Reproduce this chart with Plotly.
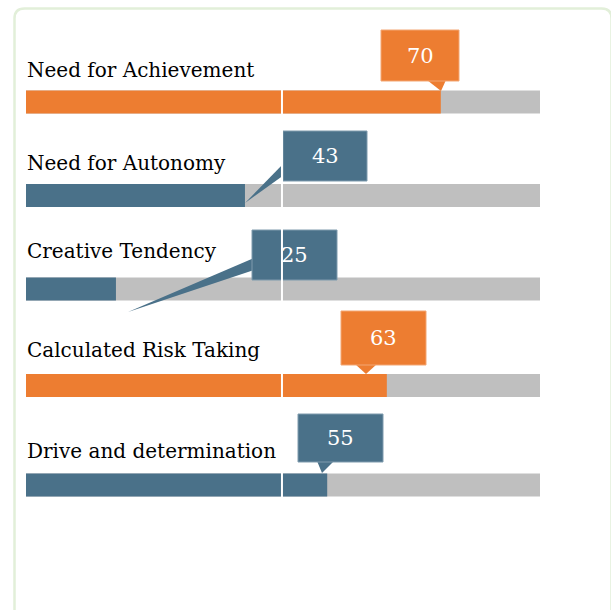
import plotly.graph_objects as go

# ---------------- data ----------------
categories = ["Need for Achievement", "Need for Autonomy", "Creative Tendency",
              "Calculated Risk Taking", "Drive and determination"]
bar_values = [80.7, 42.6, 17.5, 70.2, 58.6]      # bar lengths (0-100 scale)
label_values = [70, 43, 25, 63, 55]              # numbers shown in the callouts
scale_max = 100
midpoint = 50

# ---------------- layout / style ----------------
W, H = 611, 610
PX0, PX100 = 26, 540                 # pixel position of value 0 and value 100
PPU = (PX100 - PX0) / scale_max
def v(px):                           # pixel x -> axis value
    return (px - PX0) / PPU

row_y = [102, 195.5, 289, 385.5, 485]
label_y = [69.5, 162.5, 250.5, 349.5, 450.5]
bar_h = 23

ORANGE = "#ED7D31"
BLUE = "#4A7189"
GRAY = "#BFBFBF"
row_colors = [ORANGE, BLUE, BLUE, ORANGE, BLUE]
border_colors = ["#F3A774", "#7E9BAD", "#7E9BAD", "#F3A774", "#7E9BAD"]

# callout boxes (pixel x0, x1, y0, y1) and pointer polygons (pixel)
boxes = [(381, 459, 30, 81), (283, 367, 131, 181), (252, 337, 230, 280),
         (341, 426, 311, 365), (298, 383, 414, 462)]
pointers = [[(427, 80), (446, 80), (441, 91)],
            [(284, 163), (284, 175), (245, 203)],
            [(254, 258), (254, 270), (128, 312)],
            [(355, 364), (377, 364), (366, 374)],
            [(317, 461), (334, 461), (322, 473)]]

LABEL_FONT = dict(family="DejaVu Serif", size=20, color="#000000")
VALUE_FONT = dict(family="DejaVu Serif", size=21, color="#FFFFFF")

fig = go.Figure()
fig.add_trace(go.Bar(orientation="h", y=row_y, x=[scale_max] * len(categories),
                     width=bar_h, marker=dict(color=GRAY, line=dict(width=0)),
                     hoverinfo="skip"))
fig.add_trace(go.Bar(orientation="h", y=row_y, x=bar_values, width=bar_h,
                     marker=dict(color=row_colors, line=dict(width=0)),
                     hovertext=categories, hoverinfo="text"))

shapes = []
for i in range(len(categories)):
    pts = pointers[i]
    path = "M {},{} L {},{} L {},{} Z".format(v(pts[0][0]), pts[0][1], v(pts[1][0]), pts[1][1],
                                              v(pts[2][0]), pts[2][1])
    shapes.append(dict(type="path", xref="x", yref="y", path=path,
                       fillcolor=row_colors[i], line=dict(width=0), layer="above"))
for i in range(len(categories)):
    x0, x1, y0, y1 = boxes[i]
    shapes.append(dict(type="rect", xref="x", yref="y", x0=v(x0), x1=v(x1), y0=y0, y1=y1,
                       fillcolor=row_colors[i], line=dict(color=border_colors[i], width=1),
                       layer="above"))
# white midpoint line
shapes.append(dict(type="line", xref="x", yref="y", x0=midpoint - 0.2, x1=midpoint - 0.2,
                   y0=10, y1=H, line=dict(color="white", width=2), layer="above"))

# card border (rounded rectangle), in paper coordinates
def P(px, py):
    return "{:.5f},{:.5f}".format(px / W, 1 - py / H)
cx0, cy0, cx1, cy1, r = 14.5, 8.5, 611.5, 622, 10
card = ("M " + P(cx0, cy0 + r) + " Q " + P(cx0, cy0) + " " + P(cx0 + r, cy0) +
        " L " + P(cx1 - r, cy0) + " Q " + P(cx1, cy0) + " " + P(cx1, cy0 + r) +
        " L " + P(cx1, cy1 - r) + " Q " + P(cx1, cy1) + " " + P(cx1 - r, cy1) +
        " L " + P(cx0 + r, cy1) + " Q " + P(cx0, cy1) + " " + P(cx0, cy1 - r) + " Z")
shapes.append(dict(type="path", xref="paper", yref="paper", path=card,
                   line=dict(color="#E2EFD9", width=2.5), fillcolor="rgba(0,0,0,0)",
                   layer="above"))

annotations = []
for i, name in enumerate(categories):
    annotations.append(dict(x=0, y=label_y[i], xref="x", yref="y", text=name,
                            xanchor="left", yanchor="middle", showarrow=False,
                            font=LABEL_FONT, borderpad=0))
    x0, x1, y0, y1 = boxes[i]
    annotations.append(dict(x=v((x0 + x1) / 2), y=(y0 + y1) / 2, xref="x", yref="y",
                            text=str(label_values[i]), xanchor="center", yanchor="middle",
                            showarrow=False, font=VALUE_FONT, borderpad=0))

fig.update_layout(
    width=W, height=H, autosize=False,
    margin=dict(l=0, r=0, t=0, b=0, pad=0),
    paper_bgcolor="white", plot_bgcolor="white",
    barmode="overlay", showlegend=False,
    xaxis=dict(range=[v(0), v(W)], visible=False, fixedrange=True),
    yaxis=dict(range=[H, 0], visible=False, fixedrange=True),
    shapes=shapes, annotations=annotations,
)

fig.write_html("out.html", config={"displayModeBar": False})
